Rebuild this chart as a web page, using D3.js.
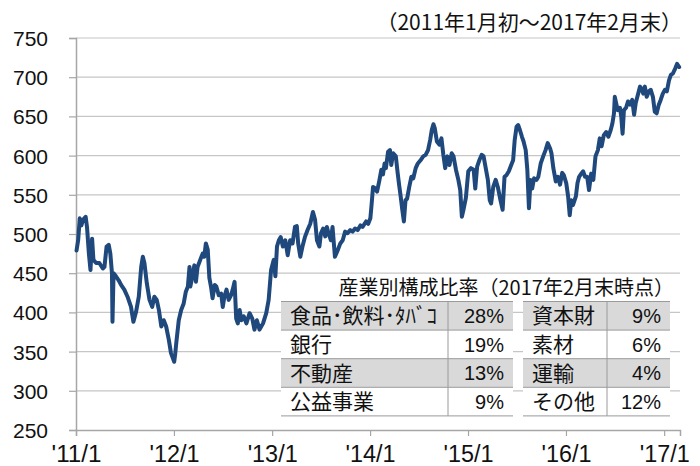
<!DOCTYPE html>
<html><head><meta charset="utf-8">
<script src="https://cdn.jsdelivr.net/npm/d3@7"></script>
<style>
html,body{margin:0;padding:0;background:#fff;}
svg{display:block;}
</style></head>
<body><svg id="chart" width="700" height="466"></svg>
<script>
const dates = ["2011-01-03","2011-01-09","2011-01-15","2011-01-21","2011-01-27","2011-02-06","2011-02-11","2011-02-18","2011-02-24","2011-03-02","2011-03-07","2011-03-17","2011-03-29","2011-04-11","2011-04-17","2011-04-25","2011-05-03","2011-05-09","2011-05-15","2011-05-17","2011-05-21","2011-05-30","2011-06-09","2011-06-18","2011-06-30","2011-07-12","2011-07-25","2011-08-03","2011-08-13","2011-08-23","2011-09-01","2011-09-07","2011-09-13","2011-09-22","2011-10-02","2011-10-12","2011-10-20","2011-10-29","2011-11-06","2011-11-15","2011-11-24","2011-12-03","2011-12-13","2011-12-21","2012-01-02","2012-01-06","2012-01-10","2012-01-19","2012-01-28","2012-02-06","2012-02-14","2012-02-22","2012-02-28","2012-03-02","2012-03-11","2012-03-17","2012-03-23","2012-03-29","2012-04-08","2012-04-17","2012-04-23","2012-04-29","2012-05-06","2012-05-12","2012-05-18","2012-05-24","2012-06-01","2012-06-07","2012-06-16","2012-06-25","2012-07-01","2012-07-07","2012-07-15","2012-07-23","2012-08-01","2012-08-07","2012-08-14","2012-08-20","2012-08-26","2012-09-02","2012-09-08","2012-09-17","2012-09-27","2012-10-09","2012-10-19","2012-10-27","2012-11-05","2012-11-15","2012-11-28","2012-12-10","2012-12-19","2012-12-28","2013-01-07","2013-01-13","2013-01-19","2013-01-26","2013-02-02","2013-02-10","2013-02-19","2013-02-28","2013-03-09","2013-03-18","2013-03-27","2013-04-03","2013-04-08","2013-04-16","2013-04-24","2013-05-03","2013-05-13","2013-05-23","2013-06-02","2013-06-10","2013-06-17","2013-06-26","2013-07-02","2013-07-10","2013-07-18","2013-07-24","2013-07-30","2013-08-08","2013-08-14","2013-08-23","2013-09-02","2013-09-12","2013-09-21","2013-09-30","2013-10-09","2013-10-19","2013-10-28","2013-11-06","2013-11-16","2013-11-26","2013-12-04","2013-12-17","2013-12-25","2014-01-02","2014-01-07","2014-01-12","2014-01-17","2014-01-27","2014-02-05","2014-02-12","2014-02-18","2014-02-24","2014-03-01","2014-03-09","2014-03-16","2014-03-21","2014-03-28","2014-04-07","2014-04-13","2014-04-19","2014-04-25","2014-05-01","2014-05-07","2014-05-13","2014-05-19","2014-05-27","2014-06-04","2014-06-11","2014-06-20","2014-06-28","2014-07-08","2014-07-18","2014-07-27","2014-08-05","2014-08-13","2014-08-19","2014-08-25","2014-08-30","2014-09-07","2014-09-16","2014-09-24","2014-10-01","2014-10-08","2014-10-16","2014-10-24","2014-11-01","2014-11-08","2014-11-17","2014-11-26","2014-12-03","2014-12-09","2014-12-15","2014-12-24","2015-01-02","2015-01-12","2015-01-22","2015-01-28","2015-02-04","2015-02-12","2015-02-21","2015-02-28","2015-03-07","2015-03-16","2015-03-23","2015-03-28","2015-04-05","2015-04-14","2015-04-22","2015-05-02","2015-05-10","2015-05-17","2015-05-24","2015-06-02","2015-06-11","2015-06-18","2015-06-24","2015-07-01","2015-07-07","2015-07-13","2015-07-21","2015-07-27","2015-08-04","2015-08-10","2015-08-16","2015-08-22","2015-08-28","2015-09-04","2015-09-13","2015-09-20","2015-09-29","2015-10-08","2015-10-17","2015-10-25","2015-11-03","2015-11-08","2015-11-15","2015-11-24","2015-12-02","2015-12-10","2015-12-18","2015-12-24","2016-01-02","2016-01-09","2016-01-15","2016-01-21","2016-01-27","2016-02-07","2016-02-13","2016-02-19","2016-02-27","2016-03-05","2016-03-12","2016-03-20","2016-03-27","2016-04-04","2016-04-12","2016-04-20","2016-04-29","2016-05-06","2016-05-13","2016-05-21","2016-05-30","2016-06-07","2016-06-16","2016-06-22","2016-06-28","2016-07-01","2016-07-06","2016-07-12","2016-07-20","2016-07-25","2016-07-30","2016-08-04","2016-08-12","2016-08-19","2016-08-27","2016-09-04","2016-09-11","2016-09-17","2016-09-26","2016-10-03","2016-10-09","2016-10-15","2016-10-21","2016-10-28","2016-11-05","2016-11-12","2016-11-20","2016-11-27","2016-12-04","2016-12-12","2016-12-19","2016-12-27","2017-01-04","2017-01-11","2017-01-19","2017-01-26","2017-02-03","2017-02-11","2017-02-18","2017-02-26"];
const values = [479,492,520,511,518,522,509,475,454,494,467,463,463,456,458,484,486,475,450,388,450,446,441,435,429,420,407,388,401,420,458,471,463,437,416,407,420,416,403,382,390,382,365,348,337,348,362,390,403,411,426,433,458,433,448,460,439,458,467,475,471,488,480,444,433,418,435,433,422,424,407,420,429,416,422,429,439,392,386,403,390,395,386,399,392,378,390,378,386,399,416,454,467,446,484,492,496,484,492,473,492,488,509,510,488,471,484,496,505,513,528,518,492,484,501,507,497,509,501,492,509,471,479,488,492,503,501,505,503,507,505,511,509,516,513,520,539,560,559,554,569,582,576,590,584,605,607,588,603,599,580,563,548,531,516,543,545,560,573,571,584,590,594,599,601,607,620,633,640,635,618,614,622,601,584,599,588,603,599,582,569,556,522,531,546,580,584,582,558,586,594,601,599,586,569,543,539,560,569,560,543,531,573,575,580,588,594,620,637,639,633,624,618,607,582,533,569,558,571,569,573,590,599,607,616,609,603,584,567,573,563,578,575,565,548,524,543,537,548,565,573,577,580,573,573,556,577,569,599,607,622,612,626,630,624,633,641,654,675,667,658,661,650,628,658,661,669,665,671,652,667,679,688,685,679,688,675,682,684,675,656,654,665,671,679,684,682,696,703,705,711,717,713];

const yTicks = [250,300,350,400,450,500,550,600,650,700,750];
const xTickYears = [2011,2012,2013,2014,2015,2016,2017];
const xTickLabels = ["'11/1","'12/1","'13/1","'14/1","'15/1","'16/1","'17/1"];
const periodLabel = "（2011年1月初～2017年2月末）";
const tableTitle = "産業別構成比率（2017年2月末時点）";
const leftNames = ["食品･飲料･ﾀﾊﾞｺ","銀行","不動産","公益事業"];
const leftPcts = ["28%","19%","13%","9%"];
const rightNames = ["資本財","素材","運輸","その他"];
const rightPcts = ["9%","6%","4%","12%"];

const svg = d3.select("#chart");
const L = 76, R = 680, T = 38, B = 430;
const parse = d3.timeParse("%Y-%m-%d");
const data = dates.map((d,i)=>({date: parse(d), value: values[i]}));

const x = d3.scaleTime().domain([new Date(2011,0,1), new Date(2017,2,1)]).range([L,R]);
const y = d3.scaleLinear().domain([250,750]).range([B,T]);

const sansFont = "'Liberation Sans', Arial, sans-serif";
const jpFont = "'Noto Sans CJK JP', sans-serif";

// gridlines
svg.append("g").selectAll("line").data(yTicks.filter(v=>v>250)).join("line")
  .attr("x1", L).attr("x2", R)
  .attr("y1", d=>y(d)).attr("y2", d=>y(d))
  .attr("stroke", "#c6c6c6").attr("stroke-width", 1.2);

// y axis
const yAxis = svg.append("g").attr("transform", `translate(${L},0)`)
  .call(d3.axisLeft(y).tickValues(yTicks).tickSize(7).tickPadding(21).tickFormat(d3.format("d")));
yAxis.select(".domain").attr("stroke", "#a6a6a6").attr("stroke-width", 1.5);
yAxis.selectAll(".tick line").attr("stroke", "#a6a6a6").attr("stroke-width", 1.2);
yAxis.selectAll("text").attr("font-family", sansFont).attr("font-size", 21).attr("fill", "#111").attr("dy", "0.36em");

// x axis
const xAxis = svg.append("g").attr("transform", `translate(0,${B})`)
  .call(d3.axisBottom(x).tickValues(xTickYears.map(yr=>new Date(yr,0,1))).tickSize(6).tickPadding(11)
    .tickFormat((d,i)=>xTickLabels[i]));
xAxis.select(".domain").attr("stroke", "#a6a6a6").attr("stroke-width", 1.5);
xAxis.selectAll(".tick line").attr("stroke", "#a6a6a6").attr("stroke-width", 1.2);
xAxis.selectAll("text").attr("font-family", sansFont).attr("font-size", 23).attr("fill", "#111")
  .attr("dy", "0.66em")
  .attr("textLength", 50).attr("lengthAdjust", "spacingAndGlyphs");

// line
const line = d3.line().x(d=>x(d.date)).y(d=>y(d.value)).curve(d3.curveLinear);
svg.append("path").datum(data).attr("d", line)
  .attr("fill", "none").attr("stroke", "#1f487c").attr("stroke-width", 4)
  .attr("stroke-linejoin", "round").attr("stroke-linecap", "round");

// period label
svg.append("text").attr("x", 682).attr("y", 30).attr("text-anchor", "end")
  .attr("font-family", jpFont).attr("font-size", 21).attr("fill", "#111").text(periodLabel);

// table
svg.append("text").attr("x", 674).attr("y", 295).attr("text-anchor", "end")
  .attr("font-family", jpFont).attr("font-size", 20).attr("fill", "#111").text(tableTitle);

const rowTop = 301.5, rowH = 28.6;
function drawTable(names, pcts, x0, xDiv, x1) {
  const g = svg.append("g");
  const rows = names.map((n,i)=>({name:n, pct:pcts[i], i}));
  g.selectAll("rect").data(rows).join("rect")
    .attr("x", x0).attr("y", d=>rowTop + d.i*rowH).attr("width", x1-x0).attr("height", rowH)
    .attr("fill", d=> d.i%2===0 ? "#d9d9d9" : "#ffffff");
  g.selectAll("line.h").data(d3.range(names.length+1)).join("line").attr("class","h")
    .attr("x1", x0).attr("x2", x1).attr("y1", i=>rowTop+i*rowH).attr("y2", i=>rowTop+i*rowH)
    .attr("stroke", "#9a9a9a").attr("stroke-width", 1);
  g.append("line").attr("x1", xDiv).attr("x2", xDiv).attr("y1", rowTop).attr("y2", rowTop+names.length*rowH)
    .attr("stroke", "#9a9a9a").attr("stroke-width", 1);
  g.selectAll("text.n").data(rows).join("text").attr("class","n")
    .attr("x", x0+9).attr("y", d=>rowTop + d.i*rowH + rowH/2).attr("dy", "0.36em")
    .attr("font-family", jpFont).attr("font-size", 21).attr("fill", "#111").text(d=>d.name);
  g.selectAll("text.p").data(rows).join("text").attr("class","p")
    .attr("x", x1 - 9).attr("y", d=>rowTop + d.i*rowH + rowH/2).attr("dy", "0.36em")
    .attr("text-anchor", "end")
    .attr("font-family", sansFont).attr("font-size", 20).attr("fill", "#111").text(d=>d.pct);
}
drawTable(leftNames, leftPcts, 281, 448, 513);
drawTable(rightNames, rightPcts, 523, 607, 670);
</script>
</body></html>
